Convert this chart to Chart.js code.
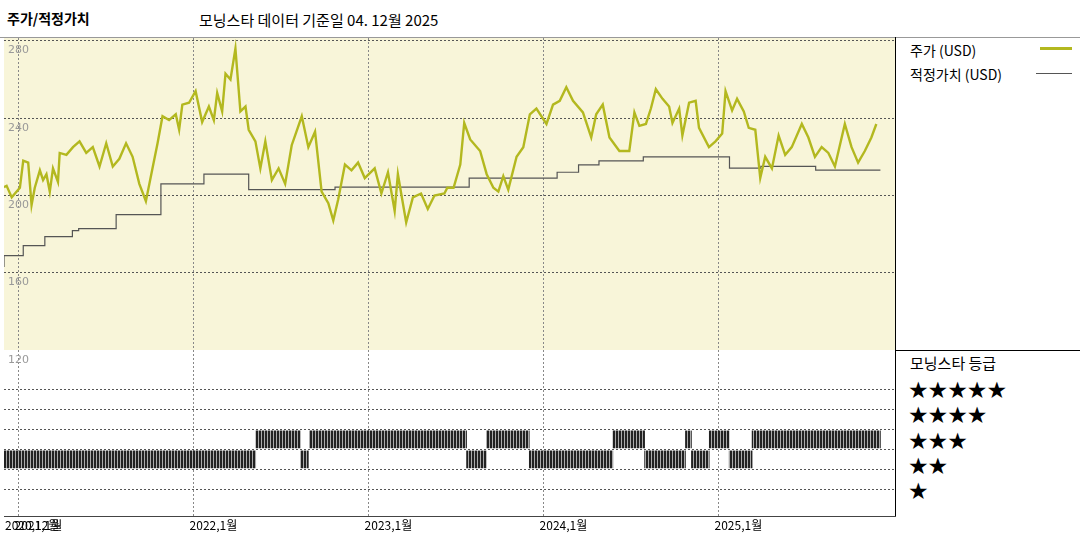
<!DOCTYPE html>
<html><head><meta charset="utf-8">
<script src="https://cdn.jsdelivr.net/npm/chart.js@4"></script>
<style>
body{margin:0;width:1080px;height:540px;background:#fff;font-family:"DejaVu Sans","Noto Sans CJK KR",sans-serif;position:relative;overflow:hidden}
.t{position:absolute;white-space:nowrap;color:#000}
#c1{position:absolute;left:4px;top:38px}
#c2{position:absolute;left:4px;top:350px}
.ln{position:absolute;background:#000}
.st{position:absolute;left:908px;font-size:23px;letter-spacing:-1px;line-height:24px}
</style></head><body>
<div class="t" style="left:7px;top:8px;font-size:14px;font-weight:bold;font-family:'Noto Sans CJK KR'">주가/적정가치</div>
<div class="t" style="left:199px;top:9px;font-size:15px;font-family:'Noto Sans CJK KR'">모닝스타 데이터 기준일 04. 12월 2025</div>
<canvas id="c1" width="891" height="312"></canvas>
<canvas id="c2" width="891" height="190"></canvas>
<div class="ln" style="left:0;top:37px;width:1080px;height:1px;background:#999"></div>
<div class="ln" style="left:895px;top:37px;width:1px;height:480px"></div>
<div class="ln" style="left:895px;top:350px;width:185px;height:1px"></div>
<div class="ln" style="left:4px;top:516px;width:892px;height:1px;background:#444"></div>
<div class="t" style="left:910px;top:40px;font-size:14px;font-family:'Noto Sans CJK KR'">주가 (USD)</div>
<div class="ln" style="left:1040px;top:47px;width:32px;height:3px;background:#b3b81f"></div>
<div class="t" style="left:910px;top:64px;font-size:14px;font-family:'Noto Sans CJK KR'">적정가치 (USD)</div>
<div class="ln" style="left:1036px;top:73px;width:36px;height:1px;background:#555"></div>
<div class="t" style="left:910px;top:352px;font-size:15px;font-family:'Noto Sans CJK KR'">모닝스타 등급</div>
<div class="st" style="top:378px">★★★★★</div>
<div class="st" style="top:403px">★★★★</div>
<div class="st" style="top:429px">★★★</div>
<div class="st" style="top:454px">★★</div>
<div class="st" style="top:479px">★</div>
<script>
// months since 2020-12
const priceMonths=[0,0.18,0.53,1.09,1.32,1.66,1.89,2.11,2.46,2.68,2.91,3.14,3.36,3.70,3.82,4.28,4.73,5.18,5.64,6.09,6.55,7.01,7.46,7.91,8.37,8.82,9.28,9.73,10.18,10.53,10.87,11.32,11.78,12.01,12.23,12.69,13.14,13.59,14.05,14.39,14.62,14.96,15.19,15.53,15.87,16.21,16.56,16.78,17.24,17.58,17.92,18.37,18.83,19.28,19.73,20.42,20.87,21.33,21.78,22.24,22.58,22.92,23.38,23.83,24.28,24.74,25.42,25.88,26.33,26.79,27.01,27.58,28.04,28.60,29.06,29.52,30.20,
30.40,30.83,31.29,31.56,31.97,32.65,33.10,33.56,33.90,34.24,34.58,35.15,35.61,36.06,36.51,37.20,37.65,38.11,38.56,39.02,39.70,40.27,40.61,41.06,41.52,42.20,42.88,43.23,43.57,44.02,44.36,44.70,45.16,45.61,45.84,46.30,46.52,46.98,47.43,47.66,48.34,48.79,49.25,49.48,49.93,50.27,50.73,51.07,51.52,51.86,52.20,52.66,53.12,53.57,54.02,54.71,55.16,55.61,56.07,56.53,56.98,57.66,58.12,58.57,59.03,59.48,59.82];
const priceValues=[204.3,205,199,204,218,217,195,204,213,208,211,202,214,207,222,221,225,228,222,225,215,227,215,219,227,220,206,197,214,227,241,239,242,234,247,248,254,238,246,239,253,243.5,263,260,276,243.5,246,234,228,214,228,208,214,206,226,241,225,233,202,196,187,198,216,213,217,209,214,201,212,192,211,186,199,201,193,200,201,
204,204,216,237.5,229,223,211,204,202,210,203,220,225,242,245,237,247,249,256,249,243,230,242,247,230,223,223,243,236,237,245,255,250,246,237.5,245,231,248,249,235,225,228,232,254,244,250,243.5,235,234,209,220,214,231,221,225,237,230,220,225,222,215,237,225,217,223,230,237];
const fairMonths=[0,1.32,2.8,4.69,5.12,7.69,10.76,13.71,16.78,22.7,31.9,37.93,39.4,40.8,43.84,49.75,51.9,55.66,55.9,60.1];
const fairValues=[162.9,168.8,174,178.7,181.8,182.8,190.1,206,211,203,204.3,209,212,215.8,217.9,220,214.1,215,213.1,213.1];
const ratingStart=[0,17.26,20.33,20.94,31.72,33.08,36.02,41.75,43.93,46.73,47.14,48.36,49.73,51.30];
const ratingEnd=[17.26,20.33,20.87,31.72,33.08,36.02,41.75,43.93,46.73,47.14,48.36,49.73,51.30,60.10];
const ratingStars=[2,3,2,3,2,3,2,3,2,3,2,3,2,3];
const priceTicks=[280,240,200,160];
const tickMonths=[0,1,13,25,37,49];
const tickLabels=['2020,12월','2021,1월','2022,1월','2023,1월','2024,1월','2025,1월'];
const gridMonths=[1,13,25,37,49];

const X_MIN=0,X_MAX=61.1;
const bgPlugin={id:'bg',beforeDraw(c,a,o){if(!o.color)return;const {ctx,chartArea:ca}=c;ctx.save();ctx.fillStyle=o.color;ctx.fillRect(ca.left,ca.top,ca.width,ca.height);ctx.restore();}};
Chart.register(bgPlugin);
Chart.defaults.animation=false;
const brd={display:false,dash:[2,2]};

new Chart(document.getElementById('c1'),{type:'line',
 data:{datasets:[
  {data:priceMonths.map((m,i)=>({x:m,y:priceValues[i]})),borderColor:'#b3b81f',borderWidth:2.4,pointRadius:0,tension:0},
  {data:fairMonths.map((m,i)=>({x:m,y:fairValues[i]})),borderColor:'#555',borderWidth:1.2,pointRadius:0,stepped:'after'}
 ]},
 options:{responsive:false,layout:{padding:0},
  plugins:{legend:{display:false},tooltip:{enabled:false},bg:{color:'#f8f5d9'}},
  scales:{
   x:{type:'linear',min:X_MIN,max:X_MAX,afterBuildTicks:s=>{s.ticks=gridMonths.map(v=>({value:v}))},
      ticks:{display:false},grid:{color:'#888',drawTicks:false},border:brd},
   y:{min:120,max:281.5,afterBuildTicks:s=>{s.ticks=priceTicks.map(v=>({value:v}))},
      ticks:{display:false},grid:{color:'#555',drawTicks:false},border:brd}
  }},
 plugins:[{id:'ylabels',afterDraw(c){const ctx=c.ctx,ys=c.scales.y;ctx.save();ctx.font='11px "DejaVu Sans"';ctx.fillStyle='#999';ctx.textBaseline='top';
   priceTicks.forEach(v=>ctx.fillText(String(v),c.chartArea.left+4,ys.getPixelForValue(v)+4));ctx.restore();}}]
});

const pc=document.createElement('canvas');pc.width=3;pc.height=4;const px=pc.getContext('2d');
px.fillStyle='#222';px.fillRect(0,0,2,4);px.fillStyle='#aaa';px.fillRect(2,0,1,4);
const pattern=px.createPattern(pc,'repeat');

new Chart(document.getElementById('c2'),{type:'bar',
 data:{datasets:[{data:ratingStart.map((s,i)=>({x:[s,ratingEnd[i]],y:ratingStars[i]})),backgroundColor:pattern,borderWidth:0,barThickness:17}]},
 options:{indexAxis:'y',responsive:false,layout:{padding:{bottom:24}},
  plugins:{legend:{display:false},tooltip:{enabled:false}},
  scales:{
   x:{type:'linear',min:X_MIN,max:X_MAX,afterBuildTicks:s=>{s.ticks=gridMonths.map(v=>({value:v}))},
      ticks:{display:false},grid:{color:'#888',drawTicks:false},border:brd},
   y:{type:'linear',min:0,max:6.64,afterBuildTicks:s=>{s.ticks=[1,2,3,4,5].map(v=>({value:v}))},
      ticks:{display:false},grid:{color:'#555',drawTicks:false},border:brd}
  }},
 plugins:[{id:'lbl',afterDraw(c){const ctx=c.ctx,xs=c.scales.x,ca=c.chartArea;ctx.save();ctx.font='11px "DejaVu Sans"';ctx.fillStyle='#999';ctx.textBaseline='top';ctx.fillText('120',ca.left+4,5);
   ctx.font='12px "Noto Sans CJK KR"';ctx.fillStyle='#000';
   tickMonths.forEach((m,i)=>ctx.fillText(tickLabels[i],xs.getPixelForValue(m)+(m===0?1:-4),ca.bottom+3));ctx.restore();}}]
});
</script>
</body></html>
